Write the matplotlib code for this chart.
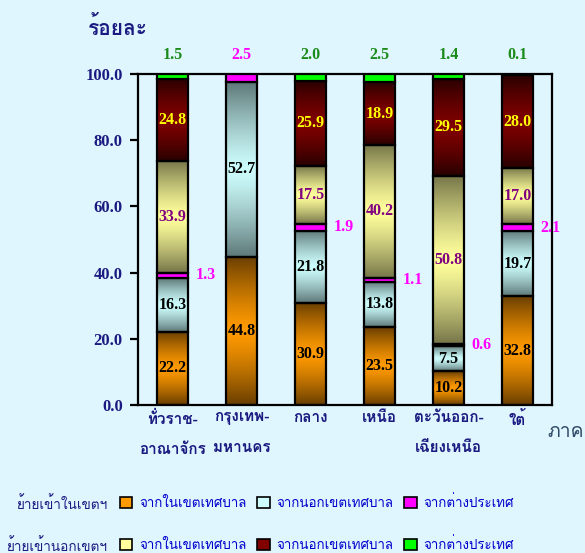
import numpy as np
import matplotlib
matplotlib.use("Agg")
import matplotlib.pyplot as plt
from matplotlib import font_manager
from matplotlib.ft2font import FT2Font
from matplotlib.patches import Patch

regions = ["ทั่วราช-\nอาณาจักร", "กรุงเทพ-\nมหานคร", "กลาง", "เหนือ",
           "ตะวันออก-\nเฉียงเหนือ", "ใต้"]

# moved into municipal area
in_from_muni = [22.2, 44.8, 30.9, 23.5, 10.2, 32.8]
in_from_nonmuni = [16.3, 52.7, 21.8, 13.8, 7.5, 19.7]
in_from_abroad = [1.3, 2.5, 1.9, 1.1, 0.6, 2.1]
# moved into non-municipal area
out_from_muni = [33.9, 0, 17.5, 40.2, 50.8, 17.0]
out_from_nonmuni = [24.8, 0, 25.9, 18.9, 29.5, 28.0]
out_from_abroad = [1.5, 0, 2.0, 2.5, 1.4, 0.1]

legend_labels = ["จากในเขตเทศบาล", "จากนอกเขตเทศบาล", "จากต่างประเทศ"]
row_titles = ["ย้ายเข้าในเขตฯ", "ย้ายเข้านอกเขตฯ"]


def thai_family():
    for f in font_manager.fontManager.ttflist:
        try:
            if ord("ก") in FT2Font(f.fname).get_charmap():
                return f.name
        except Exception:
            pass
    return "DejaVu Sans"


thai = thai_family()
tfam = [thai, "DejaVu Sans"]
serif = "Liberation Serif"
navy = "#1a1a80"
bg = "#e0f6fe"

# (edge colour, middle colour, label colour); flat fill when edge is None
styles = [
    ("#6b3f00", "#ff9a00", "black"),
    ("#5f7a7a", "#cdfcfc", "black"),
    (None, "#ff00ff", None),
    ("#77774a", "#ffff9c", "#800080"),
    ("#2a0000", "#800000", "#ffff00"),
    (None, "#00ff00", None),
]
series = [in_from_muni, in_from_nonmuni, in_from_abroad,
          out_from_muni, out_from_nonmuni, out_from_abroad]

fig = plt.figure(figsize=(5.85, 5.53), dpi=100, facecolor=bg)
ax = fig.add_axes([0.2359, 0.2676, 0.7077, 0.5986], facecolor=bg)

x = np.arange(len(regions))
bottom = np.zeros(len(regions))
width = 0.46


def gradient(edge, mid, n=64):
    e = np.array(matplotlib.colors.to_rgb(edge))
    m = np.array(matplotlib.colors.to_rgb(mid))
    t = np.abs(np.linspace(-1, 1, n)) ** 1.3
    return (m[None, :] * (1 - t[:, None]) + e[None, :] * t[:, None])[:, None, :]


for vals, (edge, mid, tcol) in zip(series, styles):
    vals = np.array(vals, dtype=float)
    bars = ax.bar(x, vals, width, bottom=bottom, facecolor=mid if edge is None else "none",
                  edgecolor="black", linewidth=1.6, zorder=3)
    for b, v in zip(bars, vals):
        if v <= 0:
            b.set_visible(False)
            continue
        x0, y0 = b.get_x(), b.get_y()
        if edge is not None:
            ax.imshow(gradient(edge, mid), extent=(x0, x0 + b.get_width(), y0, y0 + b.get_height()),
                      aspect="auto", origin="upper", zorder=2, interpolation="bilinear")
        if tcol is not None:
            ax.text(x0 + b.get_width() / 2, y0 + v / 2, f"{v:.1f}", color=tcol,
                    ha="center", va="center", fontsize=11.5, fontweight="bold",
                    family=serif, zorder=4)
    bottom += vals

# foreign labels beside bars
for i, v in enumerate(in_from_abroad):
    if out_from_abroad[i] == 0:
        continue
    yc = in_from_muni[i] + in_from_nonmuni[i] + v / 2
    ax.annotate(f"{v:.1f}", (x[i] + width / 2, yc), xytext=(5, 0), textcoords="offset points",
                color="#ff00ff", fontsize=11.5, fontweight="bold", family=serif,
                ha="left", va="center")

# labels above the plot
for i in range(len(regions)):
    if out_from_abroad[i] > 0:
        v, c = out_from_abroad[i], "#1a8a1a"
    else:
        v, c = in_from_abroad[i], "#ff00ff"
    ax.annotate(f"{v:.1f}", (x[i], 100), xytext=(0, 14), textcoords="offset points",
                color=c, fontsize=11.5, fontweight="bold", family=serif,
                ha="center", va="center", annotation_clip=False)

ax.set_xlim(-0.5, len(regions) - 0.5)
ax.set_ylim(0, 100)
ax.set_yticks(np.arange(0, 101, 20))
ax.set_yticklabels([f"{t:.1f}" for t in np.arange(0, 101, 20)], family=serif,
                   fontsize=12, fontweight="bold", color=navy)
ax.tick_params(axis="y", length=6, width=1.6, direction="out", pad=5)
ax.set_xticks(x)
ax.set_xticklabels(regions, family=tfam, fontsize=11, fontweight="bold", color=navy,
                   linespacing=2.45)
ax.tick_params(axis="x", length=0, pad=4)
for s in ax.spines.values():
    s.set_linewidth(1.6)
    s.set_color("black")

fig.text(0.15, 0.95, "ร้อยละ", family=tfam, fontsize=15,
         fontweight="bold", color=navy, va="center")
fig.text(0.935, 0.218, "ภาค", family=tfam, fontsize=14,
         color="#2f4a66", va="center")

# two legend rows
leg_rows = [(styles[0:3], 0.056), (styles[3:6], -0.02)]
for (sty, yy), title in zip(leg_rows, row_titles):
    handles = [Patch(facecolor=mid, edgecolor="black", linewidth=1.2) for _, mid, _ in sty]
    leg = fig.legend(handles, legend_labels, ncol=3, loc="lower left",
                     bbox_to_anchor=(0.184, yy), frameon=False,
                     handlelength=0.95, handleheight=0.95, handletextpad=0.5,
                     columnspacing=0.8, prop={"family": tfam, "size": 9.6})
    for t in leg.get_texts():
        t.set_color("#0000cc")
    fig.text(0.184, yy + 0.032, title, family=tfam, fontsize=9.8,
             color=navy, ha="right", va="center")

fig.savefig("out.png", dpi=100, facecolor=bg)
